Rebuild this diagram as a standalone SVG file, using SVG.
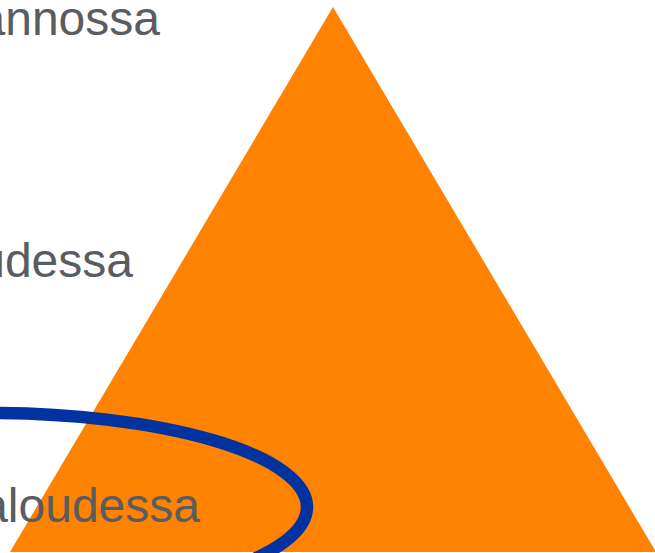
<svg xmlns="http://www.w3.org/2000/svg" width="655" height="553" viewBox="0 0 655 553">
  <style>
    .lbl { font-family: "Liberation Sans", Arial, sans-serif; font-size: 48px; fill: #595d61; text-anchor: end; }
  </style>
  <rect width="655" height="553" fill="#ffffff"/>
  <g id="triangle">
    <polygon points="333,7 10,552 656,552" fill="#ff8200"/>
  </g>
  <g id="ellipse">
    <ellipse cx="-10" cy="507" rx="317" ry="94" fill="none" stroke="#0033a0" stroke-width="12.5"/>
  </g>
  <g id="label-top">
    <text class="lbl" x="160" y="35">annossa</text>
  </g>
  <g id="label-middle">
    <text class="lbl" x="133" y="277">udessa</text>
  </g>
  <g id="label-bottom">
    <text class="lbl" x="200" y="522">aloudessa</text>
  </g>
</svg>
